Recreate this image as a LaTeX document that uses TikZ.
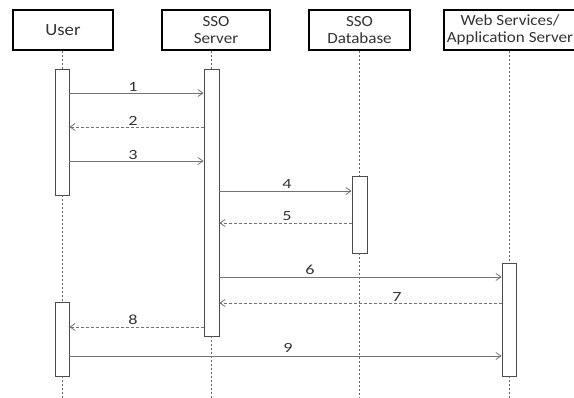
\documentclass[tikz,border=0pt]{standalone}
\usepackage{fontspec}
\setmainfont{Carlito}[FakeStretch=1.1]
\newfontfamily\digitfont{Carlito}[FakeStretch=1.3]
\usetikzlibrary{arrows.meta}
\begin{document}
\begin{tikzpicture}[x=1pt,y=-1pt,
 hdr/.style={draw=black,line width=1.8pt,minimum height=40pt,inner sep=0pt,text=black!80,font=\fontsize{15.5}{17.5}\selectfont,align=center},
 bar/.style={draw=black!70,line width=0.8pt,minimum width=14pt,inner sep=0pt,fill=white},
 life/.style={draw=black!60,dash pattern=on 2pt off 2pt,line width=0.7pt},
 msg/.style={draw=black!55,line width=0.8pt,-{Straight Barb[length=5pt,width=7pt]}},
 ret/.style={msg,dash pattern=on 3pt off 2pt},
 lbl/.style={font=\digitfont\fontsize{14}{14}\selectfont,text=black!80,inner sep=0pt,anchor=south}]
\useasboundingbox (0,0) rectangle (574,398);
% headers
\node[hdr,minimum width=100pt,font=\fontsize{17}{19}\selectfont] (user) at (63,30) {User};
\node[hdr,minimum width=108pt] (server) at (216,30) {SSO\\Server};
\node[hdr,minimum width=101pt] (db) at (359.5,30) {SSO\\Database};
\node[hdr,minimum width=132pt] (web) at (510,30) {Web Services/\\Application Server};
% activation bars
\node[bar,minimum height=126pt] (ua) at (62,132) {};
\node[bar,minimum height=74pt] (ub) at (62,339) {};
\node[bar,minimum width=15pt,minimum height=267pt] (sa) at (211.5,202.5) {};
\node[bar,minimum width=15pt,minimum height=77pt] (da) at (359.5,214.5) {};
\node[bar,minimum height=113pt] (wa) at (509,319.5) {};
% bottom ends of lifelines
\coordinate (uend) at (62,398);
\coordinate (send) at (211.5,398);
\coordinate (dend) at (359.5,398);
\coordinate (wend) at (509,398);
% lifelines
\draw[life] (ua.north |- user.south) -- (ua.north);
\draw[life] (ua.south) -- (ub.north);
\draw[life] (ub.south) -- (uend);
\draw[life] (sa.north |- server.south) -- (sa.north);
\draw[life] (sa.south) -- (send);
\draw[life] (da.north |- db.south) -- (da.north);
\draw[life] (da.south) -- (dend);
\draw[life] (wa.north |- web.south) -- (wa.north);
\draw[life] (wa.south) -- (wend);
% messages
\draw[msg] (ua.east |- 0,93) -- (sa.west |- 0,93);
\draw[ret] (sa.west |- 0,127) -- (ua.east |- 0,127);
\draw[msg] (ua.east |- 0,161) -- (sa.west |- 0,161);
\draw[msg] (sa.east |- 0,191) -- (da.west |- 0,191);
\draw[ret] (da.west |- 0,223) -- (sa.east |- 0,223);
\draw[msg] (sa.east |- 0,277) -- (wa.west |- 0,277);
\draw[ret] (wa.west |- 0,303) -- (sa.east |- 0,303);
\draw[ret] (sa.west |- 0,327) -- (ub.east |- 0,327);
\draw[msg] (ub.east |- 0,356) -- (wa.west |- 0,356);
% labels
\node[lbl] (l1) at (133,92) {1};
\node[lbl] (l2) at (133,126) {2};
\node[lbl] (l3) at (133,160) {3};
\node[lbl] (l4) at (287,189) {4};
\node[lbl] (l5) at (287,221) {5};
\node[lbl] (l6) at (310,275) {6};
\node[lbl] (l7) at (397,302) {7};
\node[lbl] (l8) at (133,325) {8};
\node[lbl] (l9) at (288,353) {9};
\end{tikzpicture}
\end{document}
